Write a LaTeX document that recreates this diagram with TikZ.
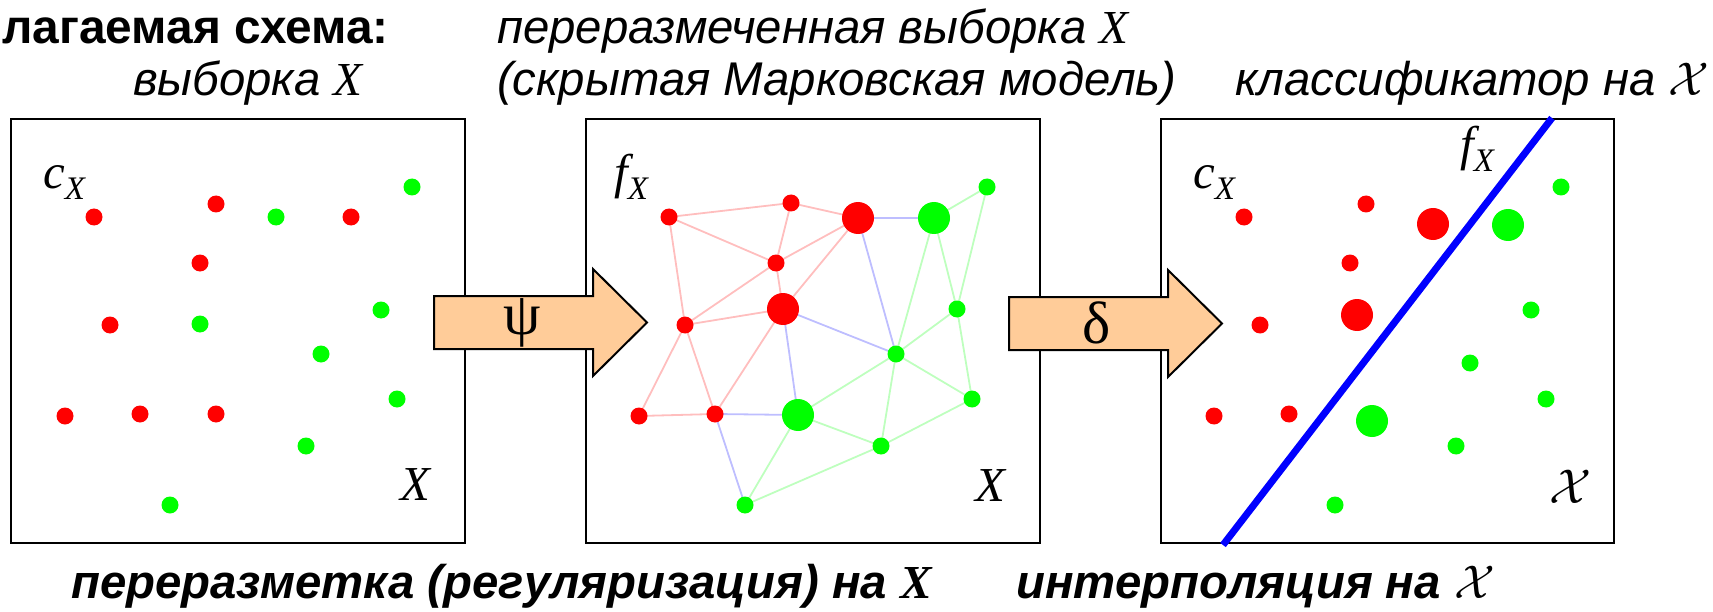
\documentclass[tikz,border=0pt]{standalone}
\usepackage{fix-cm}
\usepackage{fontspec}
\setmainfont{Liberation Sans}
\newfontfamily\tnr{Liberation Serif}
\definecolor{dred}{RGB}{255,0,0}
\definecolor{dgreen}{RGB}{0,255,0}
\definecolor{ered}{RGB}{255,190,190}
\definecolor{eblue}{RGB}{190,190,255}
\definecolor{egreen}{RGB}{190,255,190}
\definecolor{peach}{RGB}{255,204,153}
\definecolor{lineblue}{RGB}{0,0,255}
\newcommand{\vX}{{\tnr\itshape X}}
\newcommand{\calX}{$\mathcal{X}$}
\newcommand{\lblsub}[1]{{\tnr\itshape #1\raisebox{-11bp}{\fontsize{33}{33}\selectfont X}}}
\begin{document}
\begin{tikzpicture}[x=1bp,y=-1bp,
  frame/.style={draw=black, line width=2.5bp},
  rs/.style={circle, fill=dred, inner sep=0pt, minimum size=17bp},
  rb/.style={circle, fill=dred, inner sep=0pt, minimum size=32bp},
  gs/.style={circle, fill=dgreen, inner sep=0pt, minimum size=17bp},
  gb/.style={circle, fill=dgreen, inner sep=0pt, minimum size=32bp},
  er/.style={draw=ered, line width=1.8bp},
  eb/.style={draw=eblue, line width=1.8bp},
  eg/.style={draw=egreen, line width=1.8bp},
  bigarrow/.style={draw=black, line width=2bp, fill=peach, line join=miter},
  toptxt/.style={font=\fontsize{47.5}{52}\selectfont\itshape, inner sep=0pt, anchor=base west},
  titletxt/.style={font=\fontsize{48}{50}\selectfont\bfseries, inner sep=0pt, anchor=base west},
  bottxt/.style={font=\fontsize{47.5}{52}\selectfont\bfseries\itshape, inner sep=0pt, anchor=base west},
  mlabel/.style={font=\tnr\itshape\fontsize{49}{49}\selectfont, inner sep=0pt, anchor=base west},
  greek/.style={font=\tnr\fontsize{60}{60}\selectfont, inner sep=0pt}
]
\useasboundingbox (0,0) rectangle (1713,612);

% texts
\node[titletxt] (title) at (2,44) {лагаемая схема:};
\node[toptxt] (t1) at (133,96) {выборка \vX};
\node[toptxt] (t2a) at (497,44) {переразмеченная выборка \vX};
\node[toptxt] (t2b) at (497,96) {(скрытая Марковская модель)};
\node[toptxt] (t3) at (1235,96) {классификатор на \calX};
\node[bottxt] (b1) at (71,598) {переразметка (регуляризация) на \vX};
\node[bottxt] (b2) at (1016,598) {интерполяция на \calX};

% frames
\draw[frame] (11,119) rectangle (465,543);
\draw[frame] (586,119) rectangle (1040,543);
\draw[frame] (1161,119) rectangle (1614,543);

% ---------- panel 1 ----------
\node[mlabel] (c1) at (43,189) {\lblsub{c}};
\node[mlabel] (x1) at (400,500) {X};
\node[rs] (a1) at (94,217) {};
\node[rs] (a2) at (216,204) {};
\node[rs] (a3) at (351,217) {};
\node[rs] (a4) at (200,263) {};
\node[rs] (a5) at (110,325) {};
\node[rs] (a6) at (65,416) {};
\node[rs] (a7) at (140,414) {};
\node[rs] (a8) at (216,414) {};
\node[gs] (a9) at (412,187) {};
\node[gs] (a10) at (276,217) {};
\node[gs] (a11) at (200,324) {};
\node[gs] (a12) at (381,310) {};
\node[gs] (a13) at (321,354) {};
\node[gs] (a14) at (397,399) {};
\node[gs] (a15) at (306,446) {};
\node[gs] (a16) at (170,505) {};

% ---------- panel 2 ----------
\node[mlabel] (f2) at (614,189) {\lblsub{f}};
\node[mlabel] (x2) at (975,501) {X};
\coordinate (R1) at (669,217);
\coordinate (R2) at (791,203);
\coordinate (R3) at (776,263);
\coordinate (R4) at (685,325);
\coordinate (R5) at (639,416);
\coordinate (R6) at (715,414);
\coordinate (RB1) at (858,218);
\coordinate (RB2) at (783,309);
\coordinate (GB1) at (934,218);
\coordinate (GB2) at (798,415);
\coordinate (G1) at (987,187);
\coordinate (G2) at (957,309);
\coordinate (G3) at (896,354);
\coordinate (G4) at (972,399);
\coordinate (G5) at (881,446);
\coordinate (G6) at (745,505);
% edges
\draw[er] (R1)--(R2) (R1)--(R3) (R1)--(R4) (R2)--(RB1) (R2)--(R3)
          (R3)--(RB1) (R3)--(R4) (R3)--(RB2) (RB1)--(RB2) (R4)--(RB2)
          (R4)--(R5) (R4)--(R6) (R5)--(R6) (R6)--(RB2);
\draw[eb] (RB1)--(GB1) (RB1)--(G3) (RB2)--(G3) (RB2)--(GB2) (R6)--(GB2) (R6)--(G6);
\draw[eg] (GB1)--(G1) (GB1)--(G3) (GB1)--(G2) (G1)--(G2) (G2)--(G3) (G2)--(G4)
          (G3)--(G4) (G3)--(GB2) (G3)--(G5) (GB2)--(G5) (GB2)--(G6) (G6)--(G5) (G5)--(G4);
\foreach \n in {R1,R2,R3,R4,R5,R6} \node[rs] (n\n) at (\n) {};
\foreach \n in {RB1,RB2} \node[rb] (n\n) at (\n) {};
\foreach \n in {GB1,GB2} \node[gb] (n\n) at (\n) {};
\foreach \n in {G1,G2,G3,G4,G5,G6} \node[gs] (n\n) at (\n) {};

% ---------- panel 3 ----------
\node[mlabel] (c3) at (1193,189) {\lblsub{c}};
\node[rs] (k1) at (1244,217) {};
\node[rs] (k2) at (1366,204) {};
\node[rs] (k3) at (1350,263) {};
\node[rs] (k4) at (1260,325) {};
\node[rs] (k5) at (1214,416) {};
\node[rs] (k6) at (1289,414) {};
\node[rb] (k7) at (1433,224) {};
\node[rb] (k8) at (1357,315) {};
\node[gb] (k9) at (1508,225) {};
\node[gb] (k10) at (1372,421) {};
\node[gs] (k11) at (1561,187) {};
\node[gs] (k12) at (1531,310) {};
\node[gs] (k13) at (1470,363) {};
\node[gs] (k14) at (1546,399) {};
\node[gs] (k15) at (1456,446) {};
\node[gs] (k16) at (1335,505) {};
\coordinate (ltop) at (1552,118);
\coordinate (lbot) at (1223,545);
\draw[lineblue, line width=7bp] (ltop) -- (lbot);
\node[mlabel] (f3) at (1460,161) {\lblsub{f}};
\node[mlabel, font=\fontsize{49}{49}\selectfont] (x3) at (1549,503) {\calX};

% ---------- arrows ----------
\draw[bigarrow] (434,296) -- (593,296) -- (593,269) -- (647,322.5) -- (593,376) -- (593,349) -- (434,349) -- cycle;
\node[greek] (psi) at (522,323) {ψ};
\draw[bigarrow] (1009,297) -- (1168,297) -- (1168,270) -- (1222,323.5) -- (1168,377) -- (1168,350) -- (1009,350) -- cycle;
\node[greek] (delta) at (1097,323) {δ};
\end{tikzpicture}
\end{document}
